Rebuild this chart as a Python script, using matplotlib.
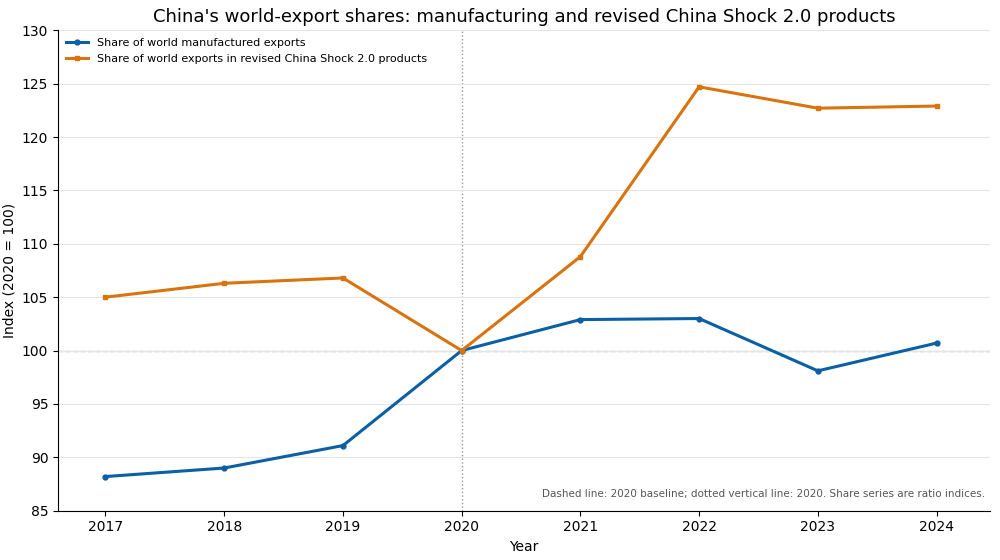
import matplotlib
matplotlib.use("Agg")
import matplotlib.pyplot as plt

years = [2017, 2018, 2019, 2020, 2021, 2022, 2023, 2024]
manuf = [88.2, 89.0, 91.1, 100.0, 102.9, 103.0, 98.1, 100.7]
shock = [105.0, 106.3, 106.8, 100.0, 108.8, 124.7, 122.7, 122.9]

fig = plt.figure(figsize=(10, 5.6), dpi=100)
ax = fig.add_axes([0.058, 0.088, 0.932, 0.858])
ax.plot(years, manuf, color="#0b5fa5", lw=2.2, marker="o", ms=3.5, label="Share of world manufactured exports")
ax.plot(years, shock, color="#d9730d", lw=2.2, marker="s", ms=3.5, label="Share of world exports in revised China Shock 2.0 products")
ax.axhline(100, color="#b0b0c0", ls="--", lw=1, zorder=0)
ax.axvline(2020, color="#999999", ls=":", lw=1, zorder=0)
ax.set_ylim(85, 130)
ax.set_xlim(2016.6, 2024.45)
ax.set_yticks(range(85, 131, 5))
ax.set_xticks(years)
ax.grid(axis="y", color="#e5e5e5", lw=0.8)
ax.set_axisbelow(True)
for s in ["top", "right"]:
    ax.spines[s].set_visible(False)
ax.set_xlabel("Year")
ax.set_ylabel("Index (2020 = 100)")
ax.set_title("China's world-export shares: manufacturing and revised China Shock 2.0 products", fontsize=13)
ax.legend(loc="upper left", frameon=False, fontsize=8, borderaxespad=0.3)
ax.text(0.995, 0.025, "Dashed line: 2020 baseline; dotted vertical line: 2020. Share series are ratio indices.",
        transform=ax.transAxes, ha="right", va="bottom", fontsize=7.5, color="#555555")
fig.savefig("out.png", dpi=100)
